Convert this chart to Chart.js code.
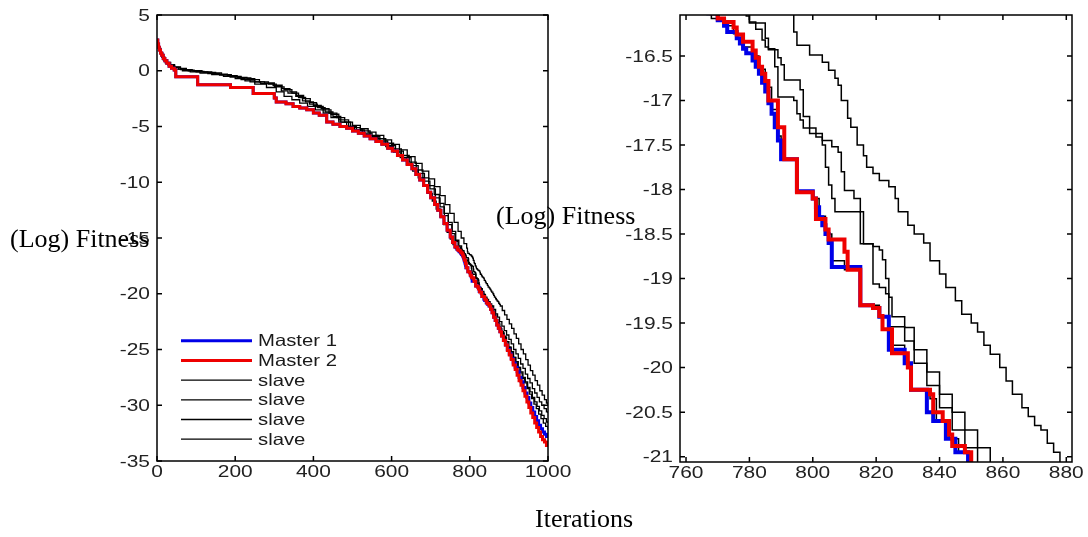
<!DOCTYPE html>
<html>
<head>
<meta charset="utf-8">
<script src="https://cdn.jsdelivr.net/npm/chart.js@4.4.1/dist/chart.umd.min.js"></script>
<style>
  html, body { margin: 0; padding: 0; background: #fff; }
  #wrap { position: relative; width: 1088px; height: 537px; overflow: hidden; background: #fff; }
  canvas { position: absolute; top: 0; }
  #cL { left: 0; width: 600px; height: 537px; }
  #cR { left: 560px; width: 528px; height: 537px; }
  .lbl { position: absolute; font-family: "Liberation Serif", "Times New Roman", serif; font-size: 26px; line-height: 26px; color: #000; white-space: nowrap; }
</style>
</head>
<body>
<div id="wrap">
  <canvas id="cR" width="528" height="537"></canvas>
  <canvas id="cL" width="600" height="537"></canvas>
  <div class="lbl" style="left:10px; top:226px;">(Log) Fitness</div>
  <div class="lbl" style="left:496px; top:203px;">(Log) Fitness</div>
  <div class="lbl" style="left:535px; top:506px;">Iterations</div>
</div>
<script>
// ---- axis ticks ----
const leftXTicks = [0, 200, 400, 600, 800, 1000];
const leftYTicks = [5, 0, -5, -10, -15, -20, -25, -30, -35];
const rightXTicks = [760, 780, 800, 820, 840, 860, 880];
const rightYTicks = [-16.5, -17, -17.5, -18, -18.5, -19, -19.5, -20, -20.5, -21];

// ---- series: [iteration, log fitness] at each improvement ----
const masterCommon = [
  [0, 2.75], [2, 2.4], [4, 2.1], [6, 1.85], [9, 1.6], [12, 1.4], [16, 1.1], [20, 0.9], [25, 0.67],
  [31, 0.4], [37, 0.22], [44, 0.07], [48, -0.53], [104, -1.25], [188, -1.5], [246, -2.05], [300, -2.45],
  [305, -2.8], [330, -2.95], [348, -3.2], [365, -3.35], [383, -3.5], [400, -3.8], [415, -4.0], [434, -4.6],
  [450, -4.8], [468, -5.0], [485, -5.15], [500, -5.4], [515, -5.6], [530, -5.85], [545, -6.1], [560, -6.35],
  [575, -6.6], [590, -6.95], [602, -7.2], [615, -7.6], [628, -8.0], [640, -8.4], [652, -8.8], [662, -9.3],
  [672, -9.8], [682, -10.3], [692, -10.9], [700, -11.4], [710, -12.0], [718, -12.5], [726, -13.1],
  [734, -13.7], [742, -14.3], [750, -14.9], [756, -15.4], [762, -15.8]
];
const master1Tail = [
  [767, -16.02], [770, -16.1], [772, -16.16], [773, -16.23], [776, -16.3], [777, -16.36], [778, -16.42],
  [779, -16.47], [781, -16.55], [782, -16.62], [783, -16.7], [784, -16.8], [785, -16.9], [786, -17.03],
  [787, -17.15], [788, -17.3], [789, -17.45], [790, -17.66], [795, -18.02], [800, -18.1], [801, -18.2],
  [802, -18.31], [803, -18.4], [804, -18.5], [805, -18.6], [806, -18.87], [815, -19.3], [819, -19.33],
  [821, -19.43], [824, -19.8], [829, -19.95], [831, -20.25], [836, -20.5], [838, -20.6], [842, -20.8],
  [845, -20.95], [849, -21.1], [853, -21.4], [857, -21.7], [861, -22.1], [865, -22.4], [869, -22.8],
  [873, -23.1], [877, -23.4], [881, -23.8], [886, -24.2], [891, -24.6], [896, -25.0], [901, -25.4],
  [906, -25.8], [911, -26.2], [916, -26.6], [921, -27.0], [926, -27.5], [931, -27.9], [936, -28.4],
  [941, -28.9], [946, -29.3], [951, -29.8], [956, -30.2], [961, -30.6], [966, -31.0], [971, -31.4],
  [976, -31.8], [981, -32.1], [986, -32.4], [991, -32.6], [996, -32.8], [1000, -32.85]
];
const master2Tail = [
  [768, -16.02], [770, -16.08], [772, -16.12], [775, -16.18], [776, -16.26], [778, -16.34], [781, -16.44],
  [782, -16.52], [783, -16.62], [784, -16.7], [785, -16.78], [786, -17.0], [789, -17.3], [791, -17.66],
  [795, -18.03], [800, -18.1], [801, -18.33], [804, -18.45], [805, -18.56], [810, -18.7], [811, -18.9],
  [815, -19.3], [819, -19.33], [821, -19.42], [822, -19.57], [825, -19.84], [830, -20.0], [831, -20.25],
  [837, -20.3], [838, -20.5], [841, -20.6], [843, -20.75], [844, -20.88], [848, -20.95], [850, -21.1],
  [853, -21.4], [857, -21.7], [861, -22.1], [865, -22.4], [869, -22.8], [873, -23.1], [877, -23.4],
  [881, -23.8], [886, -24.2], [891, -24.6], [896, -25.1], [901, -25.5], [906, -25.9], [911, -26.4],
  [916, -26.8], [921, -27.3], [926, -27.8], [931, -28.2], [936, -28.7], [941, -29.2], [946, -29.7],
  [951, -30.2], [956, -30.7], [961, -31.1], [966, -31.6], [971, -32.0], [976, -32.4], [981, -32.8],
  [986, -33.1], [991, -33.3], [996, -33.6], [1000, -33.7]
];
const slaveA = [
  [0, 2.7], [3, 2.3], [6, 1.9], [10, 1.5], [14, 1.2], [19, 0.9], [25, 0.65], [33, 0.45], [45, 0.3],
  [60, 0.1], [80, 0.0], [100, -0.1], [130, -0.25], [160, -0.4], [187, -0.57], [215, -0.8], [238, -1.0],
  [265, -1.15], [297, -1.3], [320, -1.6], [340, -1.9], [357, -2.2], [375, -2.5], [392, -2.85], [408, -3.2],
  [425, -3.5], [445, -3.9], [465, -4.4], [490, -5.0], [510, -5.3], [530, -5.6], [550, -5.9], [570, -6.3],
  [590, -6.7], [610, -7.2], [630, -7.8], [650, -8.5], [668, -9.2], [684, -9.9], [698, -10.6], [712, -11.4],
  [724, -12.2], [735, -13.0], [745, -13.8], [754, -14.6], [762, -15.3], [770, -15.8], [776, -15.95],
  [779, -16.05], [780, -16.12], [782, -16.2], [784, -16.32], [785, -16.4], [786, -16.43], [789, -16.52],
  [790, -16.6], [791, -16.77], [796, -16.88], [797, -17.18], [799, -17.37], [803, -17.5], [804, -17.75],
  [805, -17.95], [806, -18.1], [807, -18.25], [815, -18.61], [819, -19.06], [821, -19.1], [823, -19.17],
  [824, -19.54], [829, -19.7], [832, -19.95], [836, -20.2], [840, -20.45], [844, -20.7], [848, -20.9],
  [852, -21.1], [857, -21.5], [862, -21.9], [867, -22.3], [872, -22.7], [877, -23.1], [882, -23.5],
  [888, -23.9], [894, -24.3], [900, -24.8], [906, -25.2], [912, -25.7], [918, -26.1], [924, -26.6],
  [930, -27.0], [936, -27.5], [942, -27.9], [948, -28.4], [954, -28.8], [960, -29.3], [966, -29.7],
  [972, -30.1], [978, -30.5], [984, -30.9], [990, -31.2], [996, -31.5], [1000, -31.6]
];
const slaveB = [
  [0, 2.6], [2, 2.3], [5, 1.9], [9, 1.5], [13, 1.2], [18, 0.95], [24, 0.7], [32, 0.5], [42, 0.3],
  [55, 0.15], [70, 0.05], [95, -0.05], [120, -0.15], [150, -0.3], [180, -0.45], [205, -0.6], [230, -0.7],
  [250, -1.0], [275, -1.1], [300, -1.4], [318, -1.8], [335, -2.0], [355, -2.3], [372, -2.7], [390, -3.0],
  [410, -3.3], [430, -3.7], [450, -4.1], [470, -4.6], [495, -5.1], [520, -5.4], [545, -5.8], [565, -6.1],
  [585, -6.5], [605, -7.0], [625, -7.6], [645, -8.2], [663, -8.9], [680, -9.6], [695, -10.3], [709, -11.1],
  [722, -11.9], [734, -12.8], [745, -13.6], [755, -14.4], [764, -15.2], [772, -15.7], [779, -16.02],
  [780, -16.13], [785, -16.3], [786, -16.42], [788, -16.62], [789, -16.96], [794, -17.0], [795, -17.15],
  [796, -17.22], [797, -17.31], [801, -17.41], [803, -17.45], [806, -17.52], [808, -17.58], [809, -17.8],
  [810, -18.01], [813, -18.1], [815, -18.25], [816, -18.61], [819, -18.64], [821, -18.68], [822, -18.79],
  [823, -19.0], [824, -19.21], [825, -19.43], [829, -19.55], [832, -19.8], [836, -20.05], [840, -20.3],
  [844, -20.5], [848, -20.7], [852, -20.9], [856, -21.1], [861, -21.4], [866, -21.8], [871, -22.1],
  [876, -22.5], [882, -22.9], [888, -23.3], [894, -23.7], [900, -24.1], [906, -24.5], [912, -25.0],
  [918, -25.4], [924, -25.8], [930, -26.3], [936, -26.7], [942, -27.2], [948, -27.6], [954, -28.0],
  [960, -28.5], [966, -28.9], [972, -29.3], [978, -29.7], [984, -30.0], [990, -30.3], [996, -30.6],
  [1000, -30.7]
];
const slaveC = [
  [0, 2.7], [3, 2.35], [6, 2.0], [10, 1.6], [15, 1.25], [20, 1.0], [27, 0.75], [35, 0.55], [45, 0.35],
  [60, 0.2], [75, 0.1], [90, 0.0], [115, -0.1], [140, -0.2], [165, -0.35], [190, -0.5], [215, -0.65],
  [240, -0.8], [262, -1.0], [285, -1.2], [305, -1.45], [325, -1.7], [345, -2.0], [362, -2.4], [380, -2.8],
  [400, -3.1], [420, -3.4], [440, -3.8], [460, -4.2], [480, -4.6], [500, -4.9], [520, -5.2], [540, -5.5],
  [560, -5.8], [580, -6.2], [600, -6.6], [620, -7.1], [640, -7.7], [660, -8.3], [678, -9.0], [695, -9.7],
  [710, -10.4], [724, -11.2], [737, -12.0], [749, -12.8], [760, -13.6], [770, -14.4], [778, -15.0],
  [785, -15.5], [792, -15.9], [794, -16.23], [795, -16.38], [799, -16.49], [803, -16.57], [805, -16.66],
  [807, -16.75], [808, -16.83], [809, -17.0], [811, -17.2], [812, -17.3], [814, -17.5], [816, -17.62],
  [817, -17.75], [819, -17.82], [821, -17.9], [824, -17.97], [826, -18.1], [827, -18.25], [830, -18.4],
  [832, -18.5], [835, -18.6], [837, -18.8], [840, -18.95], [842, -19.1], [845, -19.25], [847, -19.4],
  [850, -19.5], [852, -19.6], [854, -19.75], [856, -19.85], [859, -20.0], [861, -20.15], [863, -20.3],
  [866, -20.45], [868, -20.55], [870, -20.65], [872, -20.7], [874, -20.85], [876, -20.95], [878, -21.1],
  [883, -21.5], [889, -21.9], [895, -22.3], [901, -22.7], [907, -23.1], [913, -23.6], [919, -24.0],
  [925, -24.5], [931, -25.0], [937, -25.4], [943, -25.9], [949, -26.4], [955, -26.9], [961, -27.3],
  [967, -27.8], [973, -28.2], [979, -28.7], [985, -29.1], [991, -29.5], [996, -29.8], [1000, -30.0]
];
const slaveD = [
  [0, 2.7], [2, 2.4], [5, 2.0], [8, 1.6], [12, 1.25], [16, 0.95], [21, 0.7], [28, 0.5], [36, 0.3],
  [48, 0.15], [65, 0.0], [85, -0.1], [110, -0.2], [140, -0.35], [170, -0.5], [200, -0.7], [225, -0.9],
  [250, -1.2], [280, -1.5], [305, -1.9], [325, -2.3], [345, -2.6], [365, -2.9], [385, -3.2], [405, -3.5],
  [425, -3.8], [445, -4.2], [465, -4.6], [485, -5.0], [505, -5.3], [525, -5.7], [545, -6.0], [565, -6.4],
  [585, -6.8], [605, -7.3], [622, -7.8], [638, -8.4], [654, -9.0], [668, -9.6], [681, -10.3], [693, -11.0],
  [704, -11.7], [714, -12.4], [724, -13.1], [733, -13.8], [742, -14.5], [750, -15.1], [757, -15.6],
  [763, -15.95], [768, -16.08], [772, -16.16], [775, -16.25], [778, -16.4], [781, -16.5], [783, -16.65],
  [785, -16.85], [787, -17.1], [789, -17.4], [790, -17.66], [795, -18.02], [800, -18.1], [802, -18.3],
  [804, -18.5], [806, -18.8], [810, -18.9], [815, -19.3], [821, -19.42], [824, -19.75], [829, -19.95],
  [831, -20.25], [837, -20.35], [839, -20.6], [843, -20.8], [846, -20.95], [850, -21.1], [855, -21.5],
  [860, -21.9], [865, -22.3], [870, -22.6], [875, -23.0], [880, -23.4], [886, -23.8], [892, -24.3],
  [898, -24.8], [904, -25.2], [910, -25.7], [916, -26.2], [922, -26.6], [928, -27.1], [934, -27.6],
  [940, -28.0], [946, -28.5], [952, -29.0], [958, -29.4], [964, -29.9], [970, -30.3], [976, -30.8],
  [982, -31.2], [988, -31.6], [994, -31.9], [1000, -32.2]
];

const master1 = masterCommon.concat(master1Tail);
const master2 = masterCommon.concat(master2Tail);

const seriesNames = ['Master 1', 'Master 2', 'slave', 'slave', 'slave', 'slave'];
const seriesData = [master1, master2, slaveA, slaveB, slaveC, slaveD];
const seriesColors = ['#0000e8', '#ee0000', '#000', '#000', '#000', '#000'];
// Master 2 is painted on top of Master 1, both above the slaves
const drawOrder = [1, 0, 2, 2, 2, 2];

const SANS = "'Liberation Sans', Arial, Helvetica, sans-serif";
const TEXT_STRETCH = 1.23;   // glyphs of the exported figure are slightly wide

function buildDatasets(thick, thin) {
  return seriesData.map((arr, i) => ({
    label: seriesNames[i],
    data: arr.map(([x, y]) => ({ x, y })),
    borderColor: seriesColors[i],
    backgroundColor: seriesColors[i],
    borderWidth: i < 2 ? thick : thin,
    stepped: true,
    pointRadius: 0,
    fill: false,
    clip: 0,
    order: drawOrder[i]
  }));
}

function wideText(ctx, text, x, y, align) {
  ctx.save();
  ctx.translate(x, y);
  ctx.scale(TEXT_STRETCH, 1);
  ctx.textAlign = align;
  ctx.fillText(text, 0, 0);
  ctx.restore();
}

// Closed box, inward tick marks on all four sides, and tick labels
function makeAxesPlugin(xTicks, yTicks) {
  return {
    id: 'axesBox',
    afterDatasetsDraw(chart) {
      const { ctx, chartArea: a } = chart;
      const xs = chart.scales.x, ys = chart.scales.y;
      const t = 5;
      ctx.save();
      ctx.strokeStyle = '#000';
      ctx.lineWidth = 1.5;
      ctx.strokeRect(a.left, a.top, a.right - a.left, a.bottom - a.top);
      ctx.beginPath();
      xTicks.forEach(v => {
        const px = xs.getPixelForValue(v);
        ctx.moveTo(px, a.bottom); ctx.lineTo(px, a.bottom - t);
        ctx.moveTo(px, a.top); ctx.lineTo(px, a.top + t);
      });
      yTicks.forEach(v => {
        const py = ys.getPixelForValue(v);
        ctx.moveTo(a.left, py); ctx.lineTo(a.left + t, py);
        ctx.moveTo(a.right, py); ctx.lineTo(a.right - t, py);
      });
      ctx.stroke();

      ctx.fillStyle = '#222';
      ctx.font = '17px ' + SANS;
      ctx.textBaseline = 'middle';
      xTicks.forEach(v => wideText(ctx, String(v), xs.getPixelForValue(v), a.bottom + 11, 'center'));
      yTicks.forEach(v => wideText(ctx, String(v), a.left - 7, ys.getPixelForValue(v) + 1, 'right'));
      ctx.restore();
    }
  };
}

// Legend drawn inside the plot area, lower left
const inlineLegend = {
  id: 'inlineLegend',
  afterDraw(chart) {
    const { ctx, chartArea: a } = chart;
    const x0 = a.left + 24, x1 = a.left + 95, tx = a.left + 101;
    const y0 = a.bottom - 120.3, gap = 19.7;
    ctx.save();
    ctx.font = '16.5px ' + SANS;
    ctx.textBaseline = 'middle';
    chart.data.datasets.forEach((ds, i) => {
      const y = y0 + i * gap;
      ctx.strokeStyle = ds.borderColor;
      ctx.lineWidth = ds.borderWidth;
      ctx.beginPath();
      ctx.moveTo(x0, y); ctx.lineTo(x1, y);
      ctx.stroke();
      ctx.fillStyle = '#1a1a1a';
      wideText(ctx, ds.label, tx, y + 1, 'left');
    });
    ctx.restore();
  }
};

function scalesFor(xMin, xMax, yMin, yMax, yWidth) {
  return {
    x: {
      type: 'linear', min: xMin, max: xMax,
      afterFit: s => { s.height = 40; s.paddingLeft = 0; s.paddingRight = 0; },
      grid: { display: false, drawTicks: false },
      border: { display: false },
      ticks: { display: false }
    },
    y: {
      type: 'linear', min: yMin, max: yMax,
      afterFit: s => { s.width = yWidth; s.paddingTop = 0; s.paddingBottom = 0; },
      grid: { display: false, drawTicks: false },
      border: { display: false },
      ticks: { display: false }
    }
  };
}

const common = {
  responsive: false,
  animation: false,
  devicePixelRatio: 1,
  events: [],
  plugins: { legend: { display: false }, tooltip: { enabled: false } }
};

new Chart(document.getElementById('cL'), {
  type: 'line',
  data: { datasets: buildDatasets(3, 1.3) },
  options: Object.assign({}, common, {
    layout: { autoPadding: false, padding: { left: 107, right: 52, top: 15, bottom: 36 } },
    scales: scalesFor(0, 1000, -35, 5, 50)
  }),
  plugins: [makeAxesPlugin(leftXTicks, leftYTicks), inlineLegend]
});

new Chart(document.getElementById('cR'), {
  type: 'line',
  data: { datasets: buildDatasets(4, 1.5) },
  options: Object.assign({}, common, {
    layout: { autoPadding: false, padding: { left: 65, right: 16, top: 15, bottom: 35 } },
    scales: scalesFor(758.1, 881.8, -21.06, -16.04, 55)
  }),
  plugins: [makeAxesPlugin(rightXTicks, rightYTicks)]
});
</script>
</body>
</html>
